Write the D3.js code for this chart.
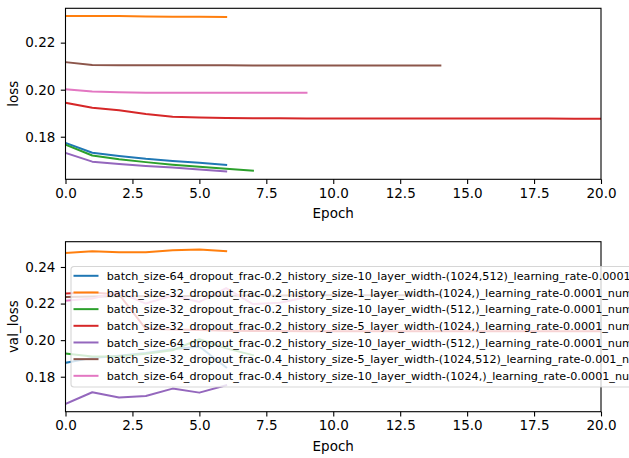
<!DOCTYPE html>
<html>
<head>
<meta charset="utf-8">
<script src="https://cdn.jsdelivr.net/npm/d3@7"></script>
<style>
  body { margin: 0; background: #fff; }
  svg { display: block; font-family: "DejaVu Sans", sans-serif; }
</style>
</head>
<body>
<svg width="629" height="458"></svg>
<script>
const runNames = [
  "batch_size-64_dropout_frac-0.2_history_size-10_layer_width-(1024,512)_learning_rate-0.0001",
  "batch_size-32_dropout_frac-0.2_history_size-1_layer_width-(1024,)_learning_rate-0.0001_num",
  "batch_size-32_dropout_frac-0.2_history_size-10_layer_width-(512,)_learning_rate-0.0001_num",
  "batch_size-32_dropout_frac-0.2_history_size-5_layer_width-(1024,)_learning_rate-0.0001_num",
  "batch_size-64_dropout_frac-0.2_history_size-10_layer_width-(512,)_learning_rate-0.0001_num",
  "batch_size-32_dropout_frac-0.4_history_size-5_layer_width-(1024,512)_learning_rate-0.001_nu",
  "batch_size-64_dropout_frac-0.4_history_size-10_layer_width-(1024,)_learning_rate-0.0001_nu"
];
const colors = ["#1f77b4", "#ff7f0e", "#2ca02c", "#d62728", "#9467bd", "#8c564b", "#e377c2"];

// training loss per epoch, one array per run
const lossBlue   = [0.1774, 0.1732, 0.1718, 0.1706, 0.1697, 0.1689, 0.1680];
const lossOrange = [0.2313, 0.2313, 0.2313, 0.2311, 0.2310, 0.2310, 0.2309];
const lossGreen  = [0.1766, 0.1720, 0.1704, 0.1692, 0.1681, 0.1672, 0.1664, 0.1656];
const lossRed    = [0.1944, 0.1923, 0.1913, 0.1897, 0.1885, 0.1882, 0.1880, 0.1879, 0.1879, 0.1878, 0.1878,
                    0.1878, 0.1877, 0.1877, 0.1877, 0.1877, 0.1877, 0.1877, 0.1877, 0.1876, 0.1876];
const lossPurple = [0.1731, 0.1694, 0.1684, 0.1676, 0.1669, 0.1661, 0.1652];
const lossBrown  = [0.2117, 0.2105, 0.2104, 0.2104, 0.2104, 0.2104, 0.2104, 0.2103, 0.2103, 0.2103,
                    0.2103, 0.2103, 0.2103, 0.2103, 0.2103];
const lossPink   = [0.2002, 0.1992, 0.1989, 0.1987, 0.1987, 0.1987, 0.1987, 0.1987, 0.1987, 0.1987];

// validation loss per epoch
const valBlue   = [0.1876, 0.1903, 0.1915, 0.1930, 0.1950, 0.1965, 0.1851];
const valOrange = [0.2476, 0.2486, 0.2480, 0.2480, 0.2491, 0.2496, 0.2486];
const valGreen  = [0.1927, 0.1910, 0.1912, 0.1925, 0.1945, 0.2005, 0.1955, 0.1918];
const valRed    = [0.2255, 0.2260, 0.2250, 0.2062, 0.2058, 0.2055, 0.2052, 0.2050, 0.2050, 0.2049, 0.2049,
                   0.2049, 0.2049, 0.2048, 0.2048, 0.2048, 0.2048, 0.2048, 0.2048, 0.2048, 0.2048];
const valPurple = [0.1651, 0.1715, 0.1686, 0.1695, 0.1735, 0.1713, 0.1753];
const valBrown  = [0.2236, 0.2238, 0.2240, 0.2240, 0.2242, 0.2242, 0.2243, 0.2244, 0.2244, 0.2245,
                   0.2245, 0.2245, 0.2246, 0.2246, 0.2246];
const valPink   = [0.2215, 0.2228, 0.2262, 0.2200, 0.2245, 0.2209, 0.2285, 0.2197, 0.2205, 0.2235];

const xTicks = [0, 2.5, 5, 7.5, 10, 12.5, 15, 17.5, 20];
const lossTicks = [0.18, 0.20, 0.22];
const valTicks = [0.18, 0.20, 0.22, 0.24];

const svg = d3.select("svg");
const left = 65.5, right = 601;

function panel(series, yTicks, top, bottom, yLabel, withLegend) {
  const x = d3.scaleLinear().domain([0, 20]).range([left, right]);
  const all = series.flat();
  const [lo, hi] = d3.extent(all);
  const pad = (hi - lo) * 0.05;
  const y = d3.scaleLinear().domain([lo - pad, hi + pad]).range([bottom, top]);

  const id = "clip" + Math.round(top);
  svg.append("clipPath").attr("id", id)
    .append("rect").attr("x", left).attr("y", top).attr("width", right - left).attr("height", bottom - top);

  const line = d3.line().x((d, i) => x(i)).y(d => y(d));
  svg.append("g").attr("clip-path", `url(#${id})`)
    .selectAll("path")
    .data(series)
    .enter()
    .append("path")
    .attr("d", d => line(d))
    .style("fill", "none")
    .style("stroke", (d, i) => colors[i])
    .style("stroke-width", 2)
    .style("stroke-linejoin", "round")
    .style("stroke-linecap", "square");

  const xAxis = svg.append("g")
    .attr("transform", `translate(0,${bottom})`)
    .call(d3.axisBottom(x).tickValues(xTicks).tickFormat(d3.format(".1f")).tickSize(4.7).tickPadding(4));
  const yAxis = svg.append("g")
    .attr("transform", `translate(${left},0)`)
    .call(d3.axisLeft(y).tickValues(yTicks).tickFormat(d3.format(".2f")).tickSize(4.7).tickPadding(5.5));
  [xAxis, yAxis].forEach(a => {
    a.select(".domain").remove();
    a.selectAll("line").style("stroke", "#000").style("stroke-width", 1.1);
    a.selectAll("text").style("font-size", "13.5px").style("fill", "#000")
      .style("font-family", "'DejaVu Sans', sans-serif");
  });

  svg.append("rect")
    .attr("x", left).attr("y", top).attr("width", right - left).attr("height", bottom - top)
    .style("fill", "none").style("stroke", "#000").style("stroke-width", 1.1);

  svg.append("text")
    .attr("x", (left + right) / 2).attr("y", bottom + 39)
    .attr("text-anchor", "middle")
    .style("font-size", "13.5px")
    .text("Epoch");

  svg.append("text")
    .attr("transform", `translate(18,${(top + bottom) / 2}) rotate(-90)`)
    .attr("text-anchor", "middle")
    .style("font-size", "13.5px")
    .text(yLabel);

  if (withLegend) {
    const lg = svg.append("g").attr("transform", "translate(71,266.5)");
    lg.append("rect")
      .attr("width", 700).attr("height", 120.5).attr("rx", 3)
      .style("fill", "#fff").style("fill-opacity", 0.8)
      .style("stroke", "#ccc").style("stroke-opacity", 0.8).style("stroke-width", 1.1);
    const rows = lg.selectAll("g.row")
      .data(runNames)
      .enter()
      .append("g")
      .attr("class", "row")
      .attr("transform", (d, i) => `translate(0,${9.3 + i * 16.67})`);
    rows.append("line")
      .attr("x1", 2.5).attr("x2", 27.5)
      .style("stroke", (d, i) => colors[i])
      .style("stroke-width", 2);
    rows.append("text")
      .attr("x", 35.7).attr("dy", "0.36em")
      .style("font-size", "11.2px")
      .text(d => d);
  }
}

panel([lossBlue, lossOrange, lossGreen, lossRed, lossPurple, lossBrown, lossPink],
      lossTicks, 8.3, 179.3, "loss", false);
panel([valBlue, valOrange, valGreen, valRed, valPurple, valBrown, valPink],
      valTicks, 241.7, 411.7, "val_loss", true);
</script>
</body>
</html>
